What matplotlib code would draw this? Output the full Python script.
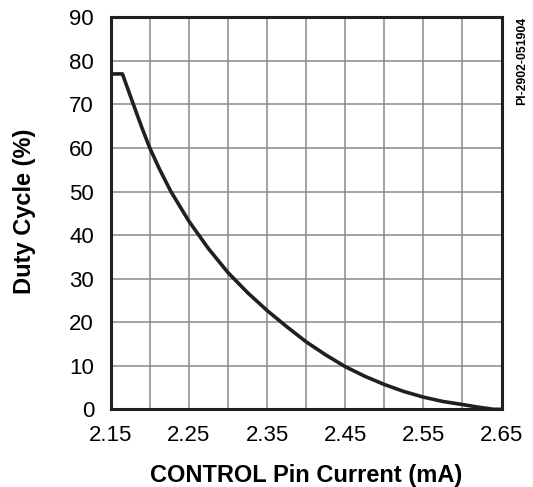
import matplotlib
matplotlib.use("Agg")
import matplotlib.pyplot as plt
from matplotlib.ticker import MultipleLocator

plt.rcParams['font.family'] = ['Liberation Sans', 'DejaVu Sans']

# curva
corriente = [2.15, 2.165, 2.179, 2.19, 2.20, 2.212, 2.227, 2.25, 2.275, 2.30,
             2.325, 2.35, 2.375, 2.40, 2.425, 2.45, 2.475, 2.50, 2.525, 2.55,
             2.575, 2.60, 2.62, 2.64, 2.65]
duty = [77, 77, 70, 64.6, 60, 55.3, 50.0, 43.2, 36.9, 31.4,
        26.8, 22.7, 19.0, 15.5, 12.5, 9.8, 7.6, 5.7, 4.1, 2.8,
        1.8, 1.1, 0.5, 0.0, 0.0]

xticks = [2.15, 2.25, 2.35, 2.45, 2.55, 2.65]
xtick_labels = ["2.15", "2.25", "2.35", "2.45", "2.55", "2.65"]
yticks = list(range(0, 91, 10))

fig = plt.figure(figsize=(5.33, 4.87), dpi=100)
ax = fig.add_axes([0.2077, 0.1595, 0.7333, 0.805])

ax.plot(corriente, duty, color="#231f20", lw=2.6, solid_joinstyle="round", zorder=3)

ax.set_xlim(2.15, 2.65)
ax.set_ylim(0, 90)
ax.set_xticks(xticks)
ax.set_xticklabels(xtick_labels)
ax.set_yticks(yticks)
ax.xaxis.set_minor_locator(MultipleLocator(0.05))
ax.grid(True, which="both", axis="x", color="#8a8a8a", lw=1.1)
ax.grid(True, which="major", axis="y", color="#8a8a8a", lw=1.1)
ax.tick_params(which="both", length=0, labelsize=16)
ax.tick_params(axis="y", pad=12)
ax.tick_params(axis="x", pad=11)

for s in ax.spines.values():
    s.set_linewidth(2.2)
    s.set_color("#231f20")
    s.set_zorder(4)

ax.set_xlabel("CONTROL Pin Current (mA)", fontsize=17, fontweight="bold")
ax.set_ylabel("Duty Cycle (%)", fontsize=17, fontweight="bold")
ax.xaxis.set_label_coords(0.5, -0.14)
ax.yaxis.set_label_coords(-0.19, 0.505)

fig.text(0.979, 0.965, "PI-2902-051904", rotation=90, fontsize=8.8, fontweight="bold",
         ha="center", va="top")

fig.savefig("out.png", dpi=100)
